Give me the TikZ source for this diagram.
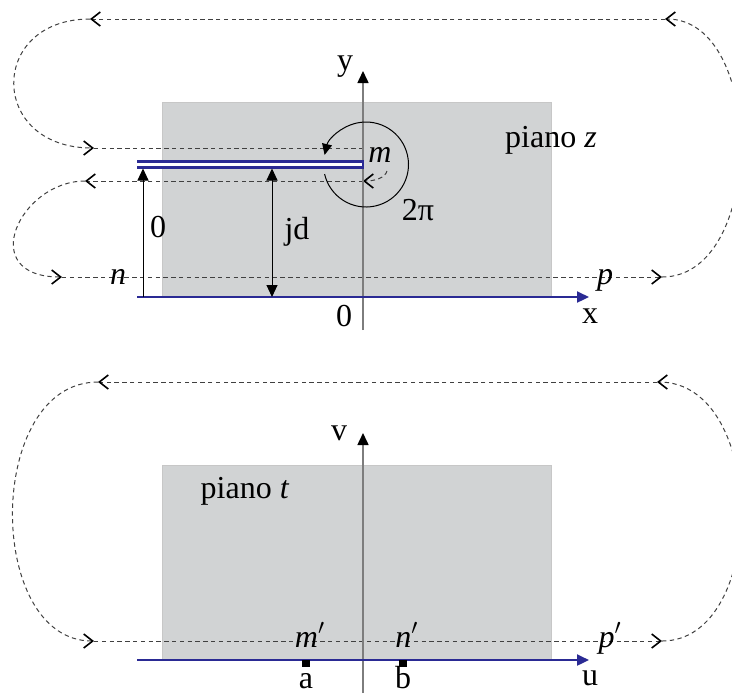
\documentclass[tikz,border=0pt]{standalone}
\usepackage{fontspec}
\setmainfont{Liberation Serif}
\usetikzlibrary{arrows.meta}
\definecolor{cutblue}{RGB}{42,42,148}
\definecolor{planegray}{RGB}{209,211,212}
\definecolor{axisgray}{RGB}{125,125,125}

\begin{document}
\begin{tikzpicture}[x=0.5pt,y=0.5pt,yscale=-1,
  lbl/.style={inner sep=0pt,font=\fontsize{16}{19}\selectfont},
  route/.style={black!75,line width=0.5pt,dash pattern=on 2.2pt off 1.7pt,
    -{Straight Barb[length=4.5pt,width=7pt,line width=0.8pt,color=black]}},
  axis/.style={axisgray,line width=0.8pt,-{Triangle[length=6pt,width=5.5pt,color=black,fill=black]}},
  baxis/.style={cutblue,line width=1.1pt,-{Triangle[length=6pt,width=5.5pt]}},
  dim/.style={black,line width=0.5pt},
  plane/.style={fill=planegray,draw=black!22,line width=0.3pt},
  endpt/.style={fill=black,inner sep=0pt,minimum width=4pt,minimum height=3.5pt}
]
\useasboundingbox (0,0) rectangle (732,693);

%%%%%%%%%%%%%%%% piano z %%%%%%%%%%%%%%%%
%Shape: Rectangle
\path[plane] (162,102) rectangle (551,297);

%turning points of the path
\coordinate (zbl) at (62,277);
\coordinate (zbr) at (662,277);
\coordinate (ztr) at (665,19);
\coordinate (ztl) at (90,19);
\coordinate (zul) at (94,148);
\coordinate (zur) at (363,148);
\coordinate (zmm) at (387,171);
\coordinate (zlr) at (363,181);
\coordinate (zll) at (85,181);

%Dashed path
\draw[route] (zbl) -- (zbr);
\draw[route] (zbr) .. controls (766,277) and (766,19) .. (ztr);
\draw[route] (ztr) -- (ztl);
\draw[route] (ztl) .. controls (-12,19) and (-12,148) .. (zul);
\draw[route,-] (zul) -- (zur);
\draw[route] (zmm) .. controls (385,178) and (375,181) .. (zlr);
\draw[route] (zlr) -- (zll);
\draw[route] (zll) .. controls (20,181) and (-25,277) .. (zbl);

%Axes
\coordinate (yfoot) at (363,330);
\coordinate (ytip) at (363,71);
\coordinate (xfoot) at (137,297);
\coordinate (xtip) at (589,297);
\draw[axis] (yfoot) -- (ytip);
\draw[baxis] (xfoot) -- (xtip);

%Cut
\draw[cutblue,line width=1.1pt,fill=white] (137,161.5) -- (363,161.5) -- (363,167.5) -- (137,167.5);

%Turn round m
\draw[dim,-{Triangle[length=5.5pt,width=5pt]}] (366,164.5) ++(167:42.5) arc[start angle=167,end angle=-167,radius=42.5];

%Heights
\coordinate (hlo) at (143,297);
\coordinate (hhi) at (143,168.5);
\coordinate (jlo) at (272,297);
\coordinate (jhi) at (272,168.5);
\draw[dim,-{Triangle[length=6pt,width=5.5pt]}] (hlo) -- (hhi);
\draw[dim,{Triangle[length=6pt,width=5.5pt]}-{Triangle[length=6pt,width=5.5pt]}] (jlo) -- (jhi);

% Text Node
\node[lbl,anchor=base] (ylab) at (345,70) {y};
\node[lbl,anchor=base] (xlab) at (590,323) {x};
\node[lbl,anchor=base] (zero) at (344,326) {0};
\node[lbl,anchor=base] (pz) at (551,147) {piano \textit{z}};
\node[lbl,anchor=base] (mlab) at (380,162) {\textit{m}};
\node[lbl,anchor=base] (turn) at (418,220) {2π};
\node[lbl,anchor=base] (hlab) at (158,237) {0};
\node[lbl,anchor=base] (jd) at (297,239) {jd};
\node[lbl,anchor=base] (nlab) at (118,284) {\textit{n}};
\node[lbl,anchor=base] (plab) at (605,284) {\textit{p}};

%%%%%%%%%%%%%%%% piano t %%%%%%%%%%%%%%%%
%Shape: Rectangle
\path[plane] (162,465) rectangle (551,659);

\coordinate (tbl) at (94,641);
\coordinate (tbr) at (662,641);
\coordinate (ttr) at (657,382);
\coordinate (ttl) at (98,382);

%Dashed path
\draw[route] (tbl) -- (tbr);
\draw[route] (tbr) .. controls (768,641) and (768,382) .. (ttr);
\draw[route] (ttr) -- (ttl);
\draw[route] (ttl) .. controls (-15,382) and (-15,641) .. (tbl);

%Axes
\coordinate (vfoot) at (363,693);
\coordinate (vtip) at (363,433);
\coordinate (ufoot) at (137,660);
\coordinate (utip) at (589,660);
\draw[axis] (vfoot) -- (vtip);
\draw[baxis] (ufoot) -- (utip);

%End points of the segment
\node[endpt,anchor=north] (sqa) at (306,660) {};
\node[endpt,anchor=north] (sqb) at (403,660) {};

% Text Node
\node[lbl,anchor=base] (vlab) at (339,440) {v};
\node[lbl,anchor=base] (ulab) at (590,685) {u};
\node[lbl,anchor=base] (pt) at (245,498) {piano \textit{t}};
\node[lbl,anchor=base] (mplab) at (310,647) {\textit{m}$'$};
\node[lbl,anchor=base] (nplab) at (407,647) {\textit{n}$'$};
\node[lbl,anchor=base] (pplab) at (610,647) {\textit{p}$'$};
\node[lbl,anchor=base] (alab) at (306,688) {a};
\node[lbl,anchor=base] (blab) at (403,688) {b};

\end{tikzpicture}
\end{document}
